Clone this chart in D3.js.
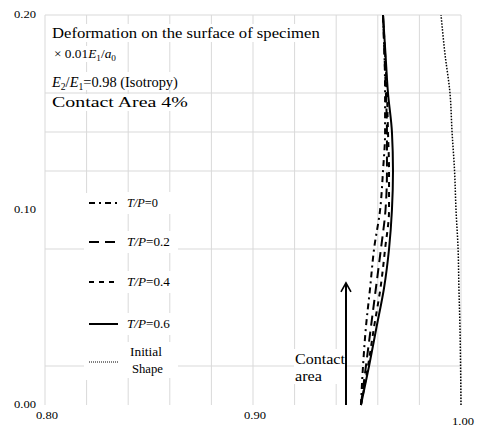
<!DOCTYPE html>
<html>
<head>
<meta charset="utf-8">
<script src="https://d3js.org/d3.v7.min.js"></script>
<style>
  body { margin: 0; background: #fff; }
  svg text { font-family: "Liberation Serif", "DejaVu Serif", serif; fill: #000; }
</style>
</head>
<body>
<svg id="chart" width="481" height="428"></svg>
<script>
// heights on the specimen surface (y axis)
var heights = [0, 0.02, 0.04, 0.06, 0.08, 0.10, 0.12, 0.14, 0.16, 0.18, 0.20];

// deformed positions (x axis) for each T/P ratio
var tp0  = [0.9519, 0.9529, 0.9543, 0.9563, 0.9582, 0.9611, 0.9625, 0.9635, 0.9635, 0.9632, 0.9625];
var tp02 = [0.9519, 0.9543, 0.9567, 0.9591, 0.9615, 0.9637, 0.9644, 0.9644, 0.9639, 0.9632, 0.9625];
var tp04 = [0.9519, 0.9553, 0.9582, 0.9613, 0.9635, 0.9654, 0.9654, 0.9649, 0.9644, 0.9635, 0.9625];
var tp06 = [0.9519, 0.9558, 0.9594, 0.9630, 0.9654, 0.9668, 0.9673, 0.9668, 0.9649, 0.9637, 0.9625];
var initial = [1.0000, 0.9998, 0.9995, 0.9990, 0.9986, 0.9976, 0.9969, 0.9957, 0.9947, 0.9923, 0.9904];

var xTicks = [0.80, 0.90, 1.00];
var yTicks = [0.00, 0.10, 0.20];
var xGrid = [0.80, 0.82, 0.84, 0.86, 0.88, 0.90, 0.92, 0.94, 0.96, 0.98, 1.00];
var yGrid = [0.02, 0.08, 0.12, 0.14, 0.16, 0.20];

var series = [
  {name: "0",   values: tp0,  dash: "6,4,2,4"},
  {name: "0.2", values: tp02, dash: "10,6"},
  {name: "0.4", values: tp04, dash: "5,5"},
  {name: "0.6", values: tp06, dash: null}
];

var svg = d3.select("#chart");

var x = d3.scaleLinear().domain([0.80, 1.00]).range([45, 461]),
    y = d3.scaleLinear().domain([0, 0.20]).range([405, 15]);

// the source picture has its text stretched sideways; squeeze/stretch to a width
function fit(sel, w) {
  sel.each(function() {
    var t = d3.select(this),
        n = this.getComputedTextLength(),
        x0 = +t.attr("x");
    if (!n) return;
    t.attr("transform", "translate(" + x0 + ",0) scale(" + (w / n) + ",1) translate(" + (-x0) + ",0)");
  });
}

// grid
svg.append("g").selectAll("line")
  .data(xGrid)
  .enter().append("line")
    .attr("x1", function(d) { return x(d); })
    .attr("x2", function(d) { return x(d); })
    .attr("y1", y(0.20))
    .attr("y2", y(0))
    .attr("stroke", "#d9d9d9")
    .attr("stroke-width", 1);

svg.append("g").selectAll("line")
  .data(yGrid)
  .enter().append("line")
    .attr("x1", x(0.80))
    .attr("x2", x(1.00))
    .attr("y1", function(d) { return y(d); })
    .attr("y2", function(d) { return y(d); })
    .attr("stroke", "#d9d9d9")
    .attr("stroke-width", 1);

// tick labels
svg.append("g").selectAll("text")
  .data(yTicks)
  .enter().append("text")
    .attr("x", 14)
    .attr("y", function(d) { return y(d) + 3; })
    .style("font-size", "11px")
    .text(function(d) { return d.toFixed(2); })
    .call(fit, 22);

svg.append("g").selectAll("text")
  .data(xTicks)
  .enter().append("text")
    .attr("x", function(d) { return Math.min(x(d) - 9, 457); })
    .attr("y", function(d, i) { return 419 + (i == 2 ? 6 : 0); })
    .style("font-size", "11px")
    .text(function(d) { return d.toFixed(2); })
    .call(fit, 22);

// curves
var line = d3.line()
  .x(function(d) { return x(d); })
  .y(function(d, i) { return y(heights[i]); })
  .curve(d3.curveMonotoneY);

svg.append("path")
  .datum(initial)
  .attr("d", line)
  .attr("fill", "none")
  .attr("stroke", "#000")
  .attr("stroke-width", 1.5)
  .attr("stroke-dasharray", "1.5,1.5");

svg.append("g").selectAll("path")
  .data(series)
  .enter().append("path")
    .attr("d", function(d) { return line(d.values); })
    .attr("fill", "none")
    .attr("stroke", "#000")
    .attr("stroke-width", 2)
    .attr("stroke-dasharray", function(d) { return d.dash; });

// contact area arrow
var ax = x(0.9447);
svg.append("line")
  .attr("x1", ax).attr("x2", ax)
  .attr("y1", y(0)).attr("y2", y(0.0626))
  .attr("stroke", "#000").attr("stroke-width", 2);
svg.append("path")
  .attr("d", "M" + (ax - 5) + "," + (y(0.0626) + 9) + "L" + ax + "," + y(0.0626) + "L" + (ax + 5) + "," + (y(0.0626) + 9))
  .attr("fill", "none").attr("stroke", "#000").attr("stroke-width", 1.6);

svg.append("rect")
  .attr("x", 294).attr("y", 349).attr("width", 51).attr("height", 35)
  .attr("fill", "#fff");
svg.append("text").attr("x", 295).attr("y", 364)
  .style("font-size", "14px").text("Contact").call(fit, 50);
svg.append("text").attr("x", 295).attr("y", 381)
  .style("font-size", "14px").text("area").call(fit, 27);

// header text
function box(x0, y0, w, h) {
  svg.append("rect").attr("x", x0).attr("y", y0).attr("width", w).attr("height", h).attr("fill", "#fff");
}
box(50, 24, 272, 18);
svg.append("text")
  .attr("x", 52).attr("y", 38)
  .style("font-size", "15px")
  .text("Deformation on the surface of specimen")
  .call(fit, 268);

box(52, 46, 68, 16);
var t2 = svg.append("text").attr("x", 54).attr("y", 58)
  .style("font-size", "13px");
t2.append("tspan").text("\u00d7 0.01");
t2.append("tspan").style("font-style", "italic").text("E");
t2.append("tspan").attr("dy", 3).style("font-size", "9px").text("1");
t2.append("tspan").attr("dy", -3).text("/");
t2.append("tspan").style("font-style", "italic").text("a");
t2.append("tspan").attr("dy", 3).style("font-size", "9px").text("0");
t2.call(fit, 62);

box(50, 72, 130, 18);
var t3 = svg.append("text").attr("x", 52).attr("y", 87)
  .style("font-size", "15px");
t3.append("tspan").style("font-style", "italic").text("E");
t3.append("tspan").attr("dy", 3).style("font-size", "10px").text("2");
t3.append("tspan").attr("dy", -3).text("/");
t3.append("tspan").style("font-style", "italic").text("E");
t3.append("tspan").attr("dy", 3).style("font-size", "10px").text("1");
t3.append("tspan").attr("dy", -3).text("=0.98 (Isotropy)");
t3.call(fit, 126);

box(50, 94, 140, 17);
svg.append("text").attr("x", 52).attr("y", 107)
  .style("font-size", "15px").text("Contact Area 4%")
  .call(fit, 136);

// legend
svg.append("rect").attr("x", 84).attr("y", 193).attr("width", 38).attr("height", 187).attr("fill", "#fff");
var legY = [203, 242, 282, 324];
var leg = svg.append("g").selectAll("g")
  .data(series)
  .enter().append("g")
    .attr("transform", function(d, i) { return "translate(0," + legY[i] + ")"; });
leg.append("rect").attr("x", 122).attr("y", -11).attr("width", 56).attr("height", 22).attr("fill", "#fff");
leg.append("line")
  .attr("x1", 89).attr("x2", 118).attr("y1", 0).attr("y2", 0)
  .attr("stroke", "#000").attr("stroke-width", 2)
  .attr("stroke-dasharray", function(d) { return d.dash; });
var lt = leg.append("text").attr("x", 127).attr("y", 4)
  .style("font-size", "12px");
lt.append("tspan").style("font-style", "italic").text("T/P");
lt.append("tspan").text(function(d) { return "=" + d.name; });
lt.each(function(d) { d3.select(this).call(fit, d.name.length == 1 ? 31 : 43); });

svg.append("rect").attr("x", 122).attr("y", 342).attr("width", 56).attr("height", 36).attr("fill", "#fff");
svg.append("line")
  .attr("x1", 89).attr("x2", 118).attr("y1", 362).attr("y2", 362)
  .attr("stroke", "#000").attr("stroke-width", 1)
  .attr("stroke-dasharray", "1,1");
svg.append("text").attr("x", 130).attr("y", 356)
  .style("font-size", "12px").text("Initial").call(fit, 32);
svg.append("text").attr("x", 132).attr("y", 373)
  .style("font-size", "12px").text("Shape").call(fit, 31);
</script>
</body>
</html>
